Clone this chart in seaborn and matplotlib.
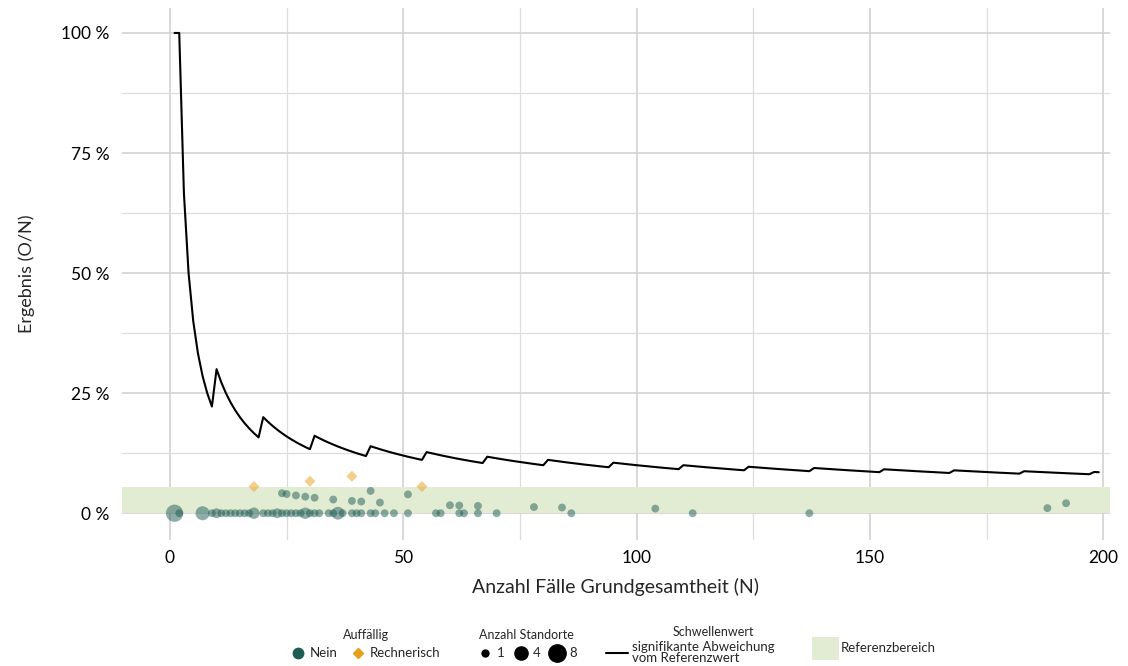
import numpy as np
import pandas as pd
import matplotlib
matplotlib.use("Agg")
import matplotlib.pyplot as plt
import seaborn as sns
from matplotlib.lines import Line2D
from matplotlib.patches import Patch
from matplotlib.ticker import MultipleLocator, FuncFormatter

# 1. Einzelwerte der Standorte (N, O, Anzahl Standorte, Auffälligkeit)
fall_n = [1, 2, 7, 9, 10, 11, 12, 13, 14, 15, 16, 17, 18, 20, 21, 22, 23, 24,
          25, 26, 27, 28, 29, 30, 31, 32, 34, 35, 36, 37, 39, 40, 41, 43, 44,
          46, 48, 51, 57, 58, 62, 63, 66, 70, 86, 112, 137,
          24, 25, 27, 29, 31, 35, 39, 41, 43, 45, 51, 60, 62, 66, 78, 84, 104,
          188, 192,
          18, 30, 39, 54]
fall_o = [0] * 47 + [1, 1, 1, 1, 1, 1, 1, 1, 2, 1, 2, 1, 1, 1, 1, 1, 1, 2, 4] + [1, 2, 3, 3]
standorte = [8, 1, 5, 1, 2, 1, 1, 1, 1, 1, 1, 1, 3, 1, 1, 1, 2, 1,
             1, 1, 1, 1, 3, 1, 1, 1, 1, 1, 4, 1, 1, 1, 1, 1, 1,
             1, 1, 1, 1, 1, 1, 1, 1, 1, 1, 1, 1] + [1] * 19 + [1] * 4
auffaellig = ["Nein"] * 66 + ["Rechnerisch"] * 4

# 2. Schwellenwert: Zähler O und letzter N-Wert je Abschnitt
schwelle_o = list(range(1, 18))
schwelle_bis_n = [1, 9, 19, 30, 42, 54, 67, 80, 94, 109, 123, 137, 152, 167, 182, 197, 199]

# 3. Referenzbereich
ref_unten, ref_oben = 0.0, 0.054

df = pd.DataFrame({"N": fall_n, "O": fall_o, "Standorte": standorte, "Auffällig": auffaellig})
df["Ergebnis"] = df["O"] / df["N"]

sx, sy = [], []
start = 1
for o, bis in zip(schwelle_o, schwelle_bis_n):
    for n in range(start, bis + 1):
        sx.append(n)
        sy.append(o / n)
    start = bis + 1

teal = "#1f5c54"
orange = "#e89f1a"
gruen = "#e2ecd3"

sns.set_theme(style="white")
plt.rcParams["font.family"] = ["Lato", "DejaVu Sans"]

fig = plt.figure(figsize=(11.28, 6.66), dpi=100)
ax = fig.add_axes([0.108, 0.189, 0.876, 0.799])

ax.axhspan(ref_unten, ref_oben, color=gruen, lw=0, zorder=0.6)

sns.scatterplot(data=df, x="N", y="Ergebnis", hue="Auffällig", style="Auffällig",
                size="Standorte", sizes=(32, 155), size_norm=(1, 8),
                palette={"Nein": teal, "Rechnerisch": orange},
                markers={"Nein": "o", "Rechnerisch": "D"},
                alpha=0.5, linewidth=0, legend=False, ax=ax, zorder=3)
sns.lineplot(x=sx, y=sy, color="black", lw=1.5, ax=ax, zorder=4)

ax.set_xlim(-10.3, 201.4)
ax.set_ylim(-0.056, 1.052)
ax.xaxis.set_major_locator(MultipleLocator(50))
ax.xaxis.set_minor_locator(MultipleLocator(25))
ax.yaxis.set_major_locator(MultipleLocator(0.25))
ax.yaxis.set_minor_locator(MultipleLocator(0.125))
ax.yaxis.set_major_formatter(FuncFormatter(lambda v, p: f"{v * 100:.0f} %"))
ax.set_axisbelow(True)
ax.grid(which="major", color="#d2d2d2", lw=1.2)
ax.grid(which="minor", color="#dddddd", lw=0.9)
ax.tick_params(which="both", length=0, labelsize=12.5, colors="black")
ax.tick_params(axis="y", pad=9)
ax.tick_params(axis="x", pad=7)
for s in ax.spines.values():
    s.set_visible(False)

ax.set_xlabel("Anzahl Fälle Grundgesamtheit (N)", fontsize=14, labelpad=9)
ax.set_ylabel("Ergebnis (O/N)", fontsize=13, labelpad=19)

# 4. Legenden unten
leg_kw = dict(frameon=False, fontsize=9.5, title_fontsize=9, borderpad=0,
              borderaxespad=0)
h1 = [Line2D([], [], marker="o", ls="", color=teal, markersize=7.5),
      Line2D([], [], marker="D", ls="", color=orange, markersize=5.5)]
l1 = fig.legend(h1, ["Nein", "Rechnerisch"], title="Auffällig", ncol=2,
                loc="upper center", bbox_to_anchor=(0.3245, 0.056),
                columnspacing=1.0, handlelength=1.0, handletextpad=0.4, **leg_kw)
h2 = [Line2D([], [], marker="o", ls="", color="black", markersize=ms) for ms in (5, 9.5, 12.5)]
l2 = fig.legend(h2, ["1", "4", "8"], title="Anzahl Standorte", ncol=3,
                loc="upper center", bbox_to_anchor=(0.467, 0.056),
                columnspacing=0.6, handlelength=1.3, handletextpad=0.25, **leg_kw)
h3 = [Line2D([], [], color="black", lw=1.5)]
l3 = fig.legend(h3, ["signifikante Abweichung\nvom Referenzwert"],
                loc="upper center", bbox_to_anchor=(0.612, 0.038),
                handlelength=1.6, handletextpad=0.3, **leg_kw)
l3.get_texts()[0].set_linespacing(0.95)
fig.text(0.632, 0.051, "Schwellenwert", ha="center", va="center", fontsize=9)
h4 = [Patch(facecolor=gruen, edgecolor="none")]
l4 = fig.legend(h4, ["Referenzbereich"], loc="upper left",
                bbox_to_anchor=(0.72, 0.044), handlelength=2.0, handleheight=2.3,
                handletextpad=0.15, **leg_kw)

fig.savefig("out.png", dpi=100)
